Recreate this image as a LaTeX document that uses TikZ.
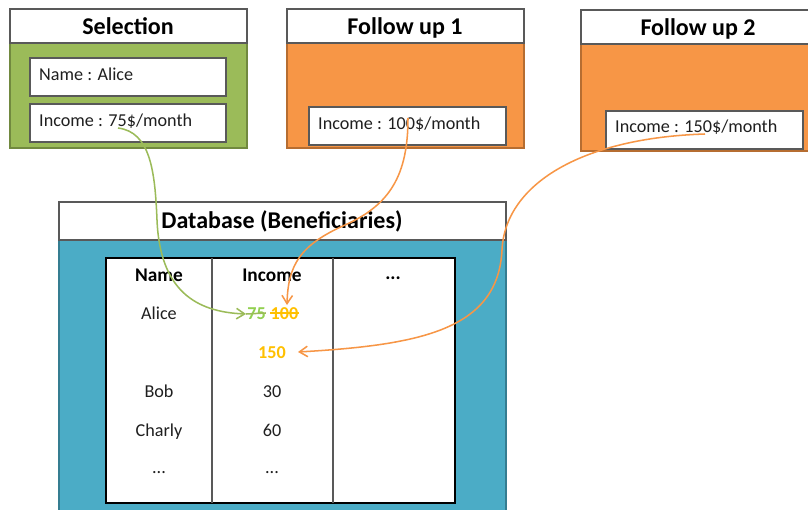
\documentclass[tikz,border=0pt]{standalone}
\usepackage{fontspec}
\setmainfont{Carlito}
\usetikzlibrary{fit,arrows.meta}
\definecolor{gfill}{HTML}{9BBB59}
\definecolor{gline}{HTML}{71893F}
\definecolor{ofill}{HTML}{F79646}
\definecolor{oline}{HTML}{B66D31}
\definecolor{bfill}{HTML}{4BACC6}
\definecolor{bline}{HTML}{357D91}
\definecolor{txt}{HTML}{1F1F1F}
\definecolor{gold}{HTML}{FFC000}
\definecolor{gtxt}{HTML}{92D050}
\definecolor{gray5}{HTML}{595959}
\begin{document}
\begin{tikzpicture}[x=0.03cm,y=-0.03cm,
  panel/.style={draw, line width=1.2pt, inner sep=0pt},
  hdrbox/.style={draw=gray5, fill=white, line width=1pt, inner sep=0pt},
  title/.style={inner sep=0pt, anchor=base, text=black, font=\fontsize{20.5}{24}\selectfont\bfseries},
  field/.style={draw=gray5, fill=white, line width=1pt, inner sep=0pt},
  ftext/.style={anchor=base west, inner sep=0pt, text=txt, font=\fontsize{15.5}{18}\selectfont},
  cell/.style={anchor=base, inner sep=0pt, text=txt, font=\fontsize{15.5}{18}\selectfont},
  bcell/.style={anchor=base, inner sep=0pt, font=\fontsize{15.5}{18}\selectfont\bfseries},
  hcell/.style={anchor=base, inner sep=0pt, text=black, font=\fontsize{16.5}{19}\selectfont\bfseries},
  link/.style={line width=1.3pt, -{Straight Barb[length=7pt,width=9pt,line width=1.3pt]}},
]
\useasboundingbox (0,0) rectangle (808,510);
\clip (0,0) rectangle (808,510);
% Selection
\node[panel, draw=gline, fill=gfill, fit={(10,9)(247,148)}] (sel) {};
\node[hdrbox, fit={(10,9)(247,43)}] (selh) {};
\node[title] at (128,35) (selt) {Selection};
\node[field, fit={(30,58)(226,96)}] (selname) {};
\node[ftext] at (39,81) (selnamet) {Name : Alice};
\node[field, fit={(30,104)(226,142)}] (selinc) {};
\node[ftext] at (39,127) (selinct) {Income : 75\$/month};
% Follow up 1
\node[panel, draw=oline, fill=ofill, fit={(287,9)(524,148)}] (fu1) {};
\node[hdrbox, fit={(287,9)(524,43)}] (fu1h) {};
\node[title] at (405,35) (fu1t) {Follow up 1};
\node[field, fit={(309,107)(506,145)}] (fu1inc) {};
\node[ftext] at (318,130) (fu1inct) {Income : 100\$/month};
% Follow up 2
\node[panel, draw=oline, fill=ofill, fit={(581,10)(814,151)}] (fu2) {};
\node[hdrbox, fit={(581,10)(814,44)}] (fu2h) {};
\node[title] at (698,36) (fu2t) {Follow up 2};
\node[field, fit={(606,111)(803,149)}] (fu2inc) {};
\node[ftext] at (615,133) (fu2inct) {Income : 150\$/month};
% Database
\node[panel, draw=bline, fill=bfill, fit={(59,202)(506,520)}] (db) {};
\node[hdrbox, fit={(59,202)(506,240)}] (dbh) {};
\node[title] at (282,229) (dbt) {Database (Beneficiaries)};
\node[draw=black, fill=white, line width=1.2pt, inner sep=0pt, fit={(106,258)(455,503)}] (tab) {};
\draw[gray5, line width=1.1pt] (212,258) -- (212,503) (333,258) -- (333,503);
\node[hcell] at (159,281) (hname) {Name};
\node[hcell] at (272,281) (hinc) {Income};
\node[hcell] at (393,279) (hdots) {...};
\node[cell] at (159,319) (alice) {Alice};
\node[bcell, text=gtxt] at (256.5,319) (v75) {75};
\node[bcell, text=gold] at (284.5,319) (v100) {100};
\draw[gold, line width=1.3pt] ([yshift=0.18cm]v100.base west) -- ([yshift=0.18cm]v100.base east);
\node[bcell, text=gold] at (272,358) (v150) {150};
\node[cell] at (159,397) (bob) {Bob};
\node[cell] at (272,397) (v30) {30};
\node[cell] at (159,436) (charly) {Charly};
\node[cell] at (272,436) (v60) {60};
\node[cell] at (159,473) (d1) {...};
\node[cell] at (272,473) (d2) {...};
% connectors
\coordinate (g0) at (118,128);
\coordinate (gtip) at (246,314);
\draw[gfill, line width=1.3pt] (gtip) -- ([yshift=0.18cm]v75.base east);
\draw[link, draw=gfill] (g0) .. controls (150,132) and (155,170) .. (157,220)
   .. controls (160,290) and (195,312) .. (gtip);
\coordinate (o10) at (408,118);
\coordinate (o1tip) at (287,305);
\draw[link, draw=ofill] (o10) .. controls (408,175) and (390,205) .. (345,225)
   .. controls (300,245) and (288,265) .. (o1tip);
\coordinate (o20) at (705,134);
\coordinate (o2tip) at (298,352);
\draw[link, draw=ofill] (o20) .. controls (580,138) and (505,185) .. (502,250)
   .. controls (498,330) and (420,345) .. (o2tip);
\end{tikzpicture}
\end{document}
